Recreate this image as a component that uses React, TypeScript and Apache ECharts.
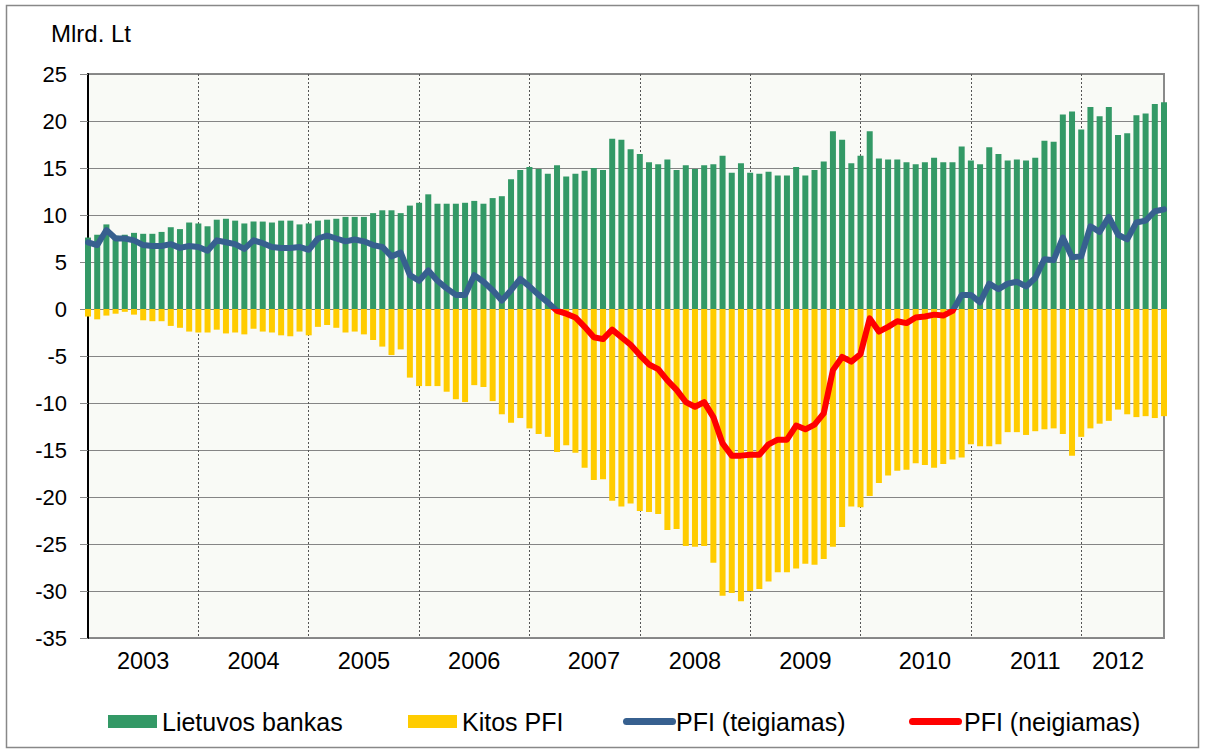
import React, { useEffect, useRef } from "react";
import * as echarts from "echarts";

// ---- data (Mlrd. Lt), monthly, Jan 2003 – Oct 2012 ----
const years = [2003, 2004, 2005, 2006, 2007, 2008, 2009, 2010, 2011, 2012];
const monthsInYear = [12, 12, 12, 12, 12, 12, 12, 12, 12, 10];
const categories: string[] = [];
years.forEach((y, yi) => {
  for (let m = 1; m <= monthsInYear[yi]; m++) categories.push(`${y}-${String(m).padStart(2, "0")}`);
});

const yearLabels = ["2003", "2004", "2005", "2006", "2007", "2008", "2009", "2010", "2011", "2012"];
const yearLabelAt = [6, 18, 30, 42, 55, 66, 78, 91, 103, 112];

const lietuvosBankas = [
  7.6, 7.9, 9.0, 7.8, 7.9, 8.1, 8.0, 8.0, 8.2, 8.7, 8.5, 9.2,
  9.1, 8.8, 9.5, 9.6, 9.4, 9.1, 9.3, 9.3, 9.2, 9.4, 9.4, 9.0,
  9.1, 9.4, 9.5, 9.6, 9.8, 9.8, 9.8, 10.2, 10.5, 10.5, 10.2, 11.0,
  11.3, 12.2, 11.2, 11.2, 11.2, 11.3, 11.5, 11.2, 11.8, 12.0, 13.8, 14.8,
  15.1, 14.9, 14.4, 15.3, 14.1, 14.4, 14.7, 15.0, 14.8, 18.1, 18.0, 17.0,
  16.5, 15.6, 15.4, 15.9, 14.8, 15.3, 14.9, 15.3, 15.4, 16.3, 14.5, 15.5,
  14.5, 14.4, 14.6, 14.2, 14.2, 15.1, 14.2, 14.8, 15.7, 18.9, 18.0, 15.5,
  16.3, 18.9, 16.0, 15.9, 15.9, 15.6, 15.4, 15.6, 16.1, 15.6, 15.6, 17.3,
  15.8, 15.4, 17.2, 16.5, 15.8, 15.9, 15.8, 16.1, 17.9, 17.8, 20.7, 21.0,
  19.1, 21.5, 20.5, 21.5, 18.5, 18.7, 20.6, 20.8, 21.8, 22.0,
];

const kitosPfi = [
  -0.8, -1.1, -0.7, -0.5, -0.3, -0.6, -1.2, -1.3, -1.3, -1.8, -2.0, -2.4,
  -2.5, -2.5, -2.2, -2.6, -2.5, -2.7, -2.1, -2.4, -2.5, -2.8, -2.9, -2.4,
  -2.8, -1.9, -1.7, -2.0, -2.5, -2.4, -2.7, -3.3, -4.0, -4.9, -4.3, -7.3,
  -8.2, -8.2, -8.2, -8.8, -9.6, -9.9, -8.1, -8.3, -9.8, -11.2, -12.1, -11.6,
  -12.7, -13.3, -13.6, -15.2, -14.5, -15.3, -16.9, -18.2, -18.1, -20.4, -21.0, -20.7,
  -21.5, -21.6, -21.8, -23.5, -23.4, -25.2, -25.3, -25.2, -27.0, -30.5, -30.2, -31.1,
  -30.0, -29.8, -29.0, -28.0, -28.0, -27.6, -27.1, -27.2, -26.6, -25.3, -23.2, -21.0,
  -21.1, -19.9, -18.5, -17.7, -17.2, -17.1, -16.4, -16.6, -16.9, -16.5, -16.0, -15.8,
  -14.4, -14.6, -14.6, -14.4, -13.1, -13.1, -13.4, -13.0, -12.8, -12.7, -13.3, -15.6,
  -13.6, -12.7, -12.2, -11.9, -10.7, -11.2, -11.5, -11.4, -11.6, -11.4,
];

const pfi = [
  7.1, 6.8, 8.4, 7.5, 7.5, 7.3, 6.8, 6.7, 6.7, 6.9, 6.5, 6.7,
  6.6, 6.2, 7.3, 7.1, 6.9, 6.4, 7.3, 7.0, 6.6, 6.5, 6.5, 6.6,
  6.3, 7.5, 7.8, 7.5, 7.2, 7.4, 7.2, 6.8, 6.6, 5.6, 6.0, 3.6,
  3.0, 4.1, 3.0, 2.2, 1.5, 1.5, 3.6, 2.9, 2.0, 0.9, 2.0, 3.2,
  2.4, 1.5, 0.7, -0.2, -0.5, -0.9, -1.9, -3.0, -3.2, -2.2, -3.0, -3.8,
  -4.9, -5.9, -6.4, -7.6, -8.6, -9.9, -10.4, -9.9, -11.5, -14.3, -15.6, -15.6,
  -15.5, -15.5, -14.4, -13.9, -13.9, -12.4, -12.8, -12.3, -11.1, -6.5, -5.1, -5.6,
  -4.8, -1.0, -2.4, -1.9, -1.3, -1.5, -0.9, -0.8, -0.6, -0.7, -0.2, 1.5,
  1.5, 0.7, 2.7, 2.1, 2.7, 2.9, 2.4, 3.3, 5.3, 5.2, 7.6, 5.5,
  5.6, 8.8, 8.2, 9.8, 7.9, 7.4, 9.2, 9.4, 10.4, 10.6,
];

const yTicks = { min: -35, max: 25, interval: 5 };

const GREEN = "#339966";
const YELLOW = "#FFCC00";
const BLUE = "#37608F";
const RED = "#FF0000";
const CLEAR = "rgba(0,0,0,0)";
const FONT = "'Liberation Sans', Arial, sans-serif";
const PILL = "path://M3.5,0 H49.5 A3.5,3.5 0 0 1 49.5,7 H3.5 A3.5,3.5 0 0 1 3.5,0 Z";

const GRID = { left: 88, right: 41, top: 74, bottom: 115 };
const H = 753;

export default function App() {
  const ref = useRef<HTMLDivElement>(null);

  useEffect(() => {
    if (!ref.current) return;
    const chart = echarts.init(ref.current, undefined, { renderer: "svg" });

    // split colour exactly at value 0 (sign of the net position)
    const zeroOff = yTicks.max / (yTicks.max - yTicks.min);
    const y0 = GRID.top;
    const y1 = H - GRID.bottom;
    const signGradient = (above: string, below: string) =>
      new echarts.graphic.LinearGradient(
        0, y0, 0, y1,
        [
          { offset: 0, color: above },
          { offset: zeroOff, color: above },
          { offset: zeroOff, color: below },
          { offset: 1, color: below },
        ],
        true
      );

    const legendBase = {
      top: 709,
      padding: 0,
      orient: "horizontal" as const,
      textStyle: { fontSize: 25, color: "#000", fontFamily: FONT },
      selectedMode: false,
    };

    chart.setOption({
      animation: false,
      backgroundColor: "#fff",
      textStyle: { fontFamily: FONT },
      title: {
        text: "Mlrd. Lt",
        left: 51,
        top: 21,
        padding: 0,
        textStyle: { fontSize: 24, fontWeight: "normal", color: "#000", fontFamily: FONT },
      },
      graphic: [
        {
          type: "rect",
          shape: { x: 6.5, y: 5.5, width: 1192, height: 742 },
          style: { fill: "none", stroke: "#888", lineWidth: 1.5 },
          silent: true,
        },
      ],
      legend: [
        {
          ...legendBase,
          left: 108,
          itemWidth: 49,
          itemHeight: 13,
          icon: "rect",
          data: [{ name: "Lietuvos bankas", itemStyle: { color: GREEN } }],
        },
        {
          ...legendBase,
          left: 408,
          itemWidth: 49,
          itemHeight: 13,
          icon: "rect",
          data: [{ name: "Kitos PFI", itemStyle: { color: YELLOW } }],
        },
        {
          ...legendBase,
          left: 623,
          itemWidth: 53,
          itemHeight: 7,
          icon: PILL,
          textStyle: { ...legendBase.textStyle, padding: [0, 0, 0, -5] },
          data: [{ name: "PFI (teigiamas)", itemStyle: { color: BLUE } }],
        },
        {
          ...legendBase,
          left: 909,
          itemWidth: 57,
          itemHeight: 7,
          icon: PILL,
          textStyle: { ...legendBase.textStyle, padding: [0, 0, 0, -5] },
          data: [{ name: "PFI (neigiamas)", itemStyle: { color: RED } }],
        },
      ],
      grid: {
        ...GRID,
        show: true,
        backgroundColor: "#F9FAF6",
        borderColor: "#8a8a8a",
        borderWidth: 2,
      },
      xAxis: {
        type: "category",
        data: categories,
        boundaryGap: false,
        axisLine: { show: false, onZero: false },
        axisTick: { show: false },
        axisLabel: {
          interval: (i: number) => yearLabelAt.includes(i),
          formatter: (_v: string, i: number) => {
            const p = yearLabelAt.indexOf(i);
            return p >= 0 ? yearLabels[p] : "";
          },
          fontSize: 23.5,
          color: "#000",
          margin: 11,
          fontFamily: FONT,
        },
        splitLine: {
          show: true,
          interval: (i: number) => i > 0 && i % 12 === 0,
          lineStyle: { color: "#555", width: 1, type: [2, 2] },
        },
      },
      yAxis: {
        type: "value",
        min: yTicks.min,
        max: yTicks.max,
        interval: yTicks.interval,
        axisLine: { show: true, onZero: false, lineStyle: { color: "#000", width: 2 } },
        axisTick: { show: true, length: 8, lineStyle: { color: "#888", width: 1 } },
        axisLabel: { fontSize: 22, color: "#000", margin: 21, fontFamily: FONT },
        splitLine: { show: true, lineStyle: { color: "#858585", width: 1 } },
      },
      series: [
        {
          name: "Lietuvos bankas",
          type: "bar",
          data: lietuvosBankas,
          barWidth: 6,
          barGap: "-100%",
          itemStyle: { color: GREEN },
        },
        {
          name: "Kitos PFI",
          type: "bar",
          data: kitosPfi,
          barWidth: 6,
          barGap: "-100%",
          itemStyle: { color: YELLOW },
        },
        {
          name: "PFI (teigiamas)",
          type: "line",
          data: pfi,
          showSymbol: false,
          symbol: "none",
          itemStyle: { color: BLUE },
          lineStyle: { width: 6, color: signGradient(BLUE, CLEAR), join: "round", cap: "round" },
          z: 3,
        },
        {
          name: "PFI (neigiamas)",
          type: "line",
          data: pfi,
          showSymbol: false,
          symbol: "none",
          itemStyle: { color: RED },
          lineStyle: { width: 6, color: signGradient(CLEAR, RED), join: "round", cap: "round" },
          z: 4,
        },
      ],
    });

    return () => chart.dispose();
  }, []);

  return (
    <div
      ref={ref}
      style={{ position: "fixed", left: 0, top: 0, width: 1205, height: H }}
    />
  );
}
